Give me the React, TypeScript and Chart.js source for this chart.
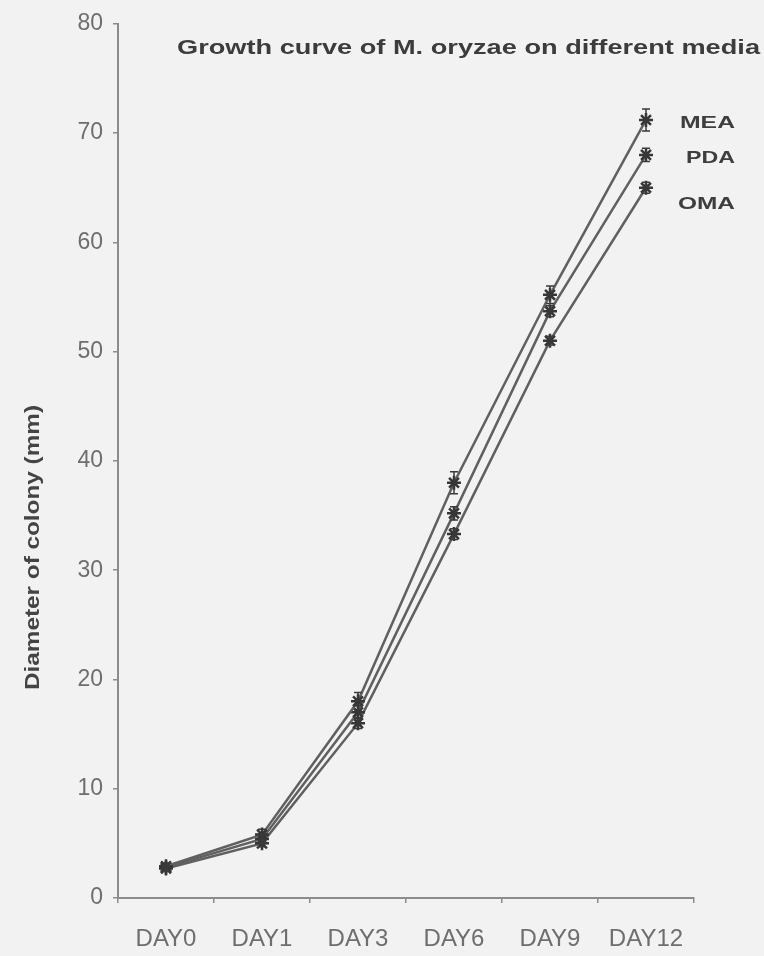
import React, { useEffect, useRef } from "react";
import { Chart, registerables } from "chart.js";

Chart.register(...registerables);

// ---- data ----
const categories = ["DAY0", "DAY1", "DAY3", "DAY6", "DAY9", "DAY12"];
const seriesNames = ["MEA", "PDA", "OMA"];
const meaValues = [2.9, 5.8, 18.0, 38.0, 55.2, 71.2];
const pdaValues = [2.8, 5.4, 17.0, 35.2, 53.7, 68.0];
const omaValues = [2.7, 5.0, 16.0, 33.3, 51.0, 65.0];
const meaErrors = [0.3, 0.5, 0.8, 1.0, 0.8, 1.0];
const pdaErrors = [0.2, 0.4, 0.6, 0.6, 0.5, 0.6];
const omaErrors = [0.2, 0.3, 0.5, 0.5, 0.4, 0.5];
const yMin = 0;
const yMax = 80;
const yStep = 10;
const chartTitle = "Growth curve of M. oryzae on different media";
const yAxisTitle = "Diameter of colony (mm)";

const FONT = "'Liberation Sans', Arial, sans-serif";

function fitText(
  ctx: CanvasRenderingContext2D,
  text: string,
  x: number,
  y: number,
  width: number,
  font: string,
  color: string,
  rotate = 0
) {
  ctx.save();
  ctx.font = font;
  ctx.fillStyle = color;
  ctx.textBaseline = "alphabetic";
  ctx.textAlign = "left";
  const w = ctx.measureText(text).width;
  ctx.translate(x, y);
  if (rotate) ctx.rotate(rotate);
  ctx.scale(width / w, 1);
  ctx.fillText(text, 0, 0);
  ctx.restore();
}

const backgroundPlugin = {
  id: "bg",
  beforeDraw(chart: any) {
    const { ctx, width, height } = chart;
    ctx.save();
    ctx.fillStyle = "#f2f2f2";
    ctx.fillRect(0, 0, width, height);
    ctx.restore();
  },
};

const errorBarPlugin = {
  id: "errorBars",
  afterDatasetsDraw(chart: any) {
    const { ctx } = chart;
    const yScale = chart.scales.y;
    chart.data.datasets.forEach((ds: any, di: number) => {
      const meta = chart.getDatasetMeta(di);
      const errs: number[] = ds.errors || [];
      meta.data.forEach((pt: any, i: number) => {
        const v = ds.data[i];
        const e = errs[i] || 0;
        const yTop = yScale.getPixelForValue(v + e);
        const yBot = yScale.getPixelForValue(v - e);
        ctx.save();
        ctx.strokeStyle = "#3a3a3a";
        ctx.lineWidth = 1.5;
        ctx.beginPath();
        ctx.moveTo(pt.x, yTop);
        ctx.lineTo(pt.x, yBot);
        ctx.moveTo(pt.x - 4, yTop);
        ctx.lineTo(pt.x + 4, yTop);
        ctx.moveTo(pt.x - 4, yBot);
        ctx.lineTo(pt.x + 4, yBot);
        ctx.stroke();
        ctx.restore();
      });
    });
  },
};

const labelsPlugin = {
  id: "textLabels",
  afterDraw(chart: any) {
    const { ctx, chartArea } = chart;
    // title inside plot area
    fitText(
      ctx,
      chartTitle,
      chartArea.left + 59,
      chartArea.top + 30,
      583,
      `bold 21px ${FONT}`,
      "#3c3c3c"
    );
    // y-axis title (rotated)
    fitText(
      ctx,
      yAxisTitle,
      39,
      690,
      285,
      `bold 20px ${FONT}`,
      "#444",
      -Math.PI / 2
    );
    // series labels at line ends
    const offsets = [
      { dx: 34, dy: 8, w: 55 },
      { dx: 40, dy: 8, w: 49 },
      { dx: 32, dy: 21, w: 57 },
    ];
    chart.data.datasets.forEach((ds: any, di: number) => {
      const meta = chart.getDatasetMeta(di);
      const last = meta.data[meta.data.length - 1];
      const o = offsets[di];
      fitText(
        ctx,
        ds.label,
        last.x + o.dx,
        last.y + o.dy,
        o.w,
        `bold 17px ${FONT}`,
        "#3e3e3e"
      );
    });
  },
};

export default function App() {
  const ref = useRef<HTMLCanvasElement>(null);

  useEffect(() => {
    const canvas = ref.current!;
    const values = [meaValues, pdaValues, omaValues];
    const errors = [meaErrors, pdaErrors, omaErrors];
    const chart = new Chart(canvas, {
      type: "line",
      data: {
        labels: categories,
        datasets: seriesNames.map((name, i) => ({
          label: name,
          data: values[i],
          errors: errors[i],
          borderColor: "#606060",
          borderWidth: 2.5,
          pointStyle: "star",
          pointRadius: 7,
          pointBorderColor: "#363636",
          pointBorderWidth: 2.5,
          pointBackgroundColor: "#363636",
          tension: 0,
          fill: false,
        })) as any,
      },
      options: {
        animation: false,
        responsive: false,
        maintainAspectRatio: false,
        layout: { padding: { top: 20, right: 70, left: 0, bottom: 0 } },
        plugins: {
          legend: { display: false },
          tooltip: { enabled: false },
          title: { display: false },
        },
        scales: {
          x: {
            type: "category",
            offset: true,
            grid: {
              display: true,
              offset: true,
              drawOnChartArea: false,
              drawTicks: true,
              tickLength: 5,
              color: "#8c8c8c",
              lineWidth: 1.5,
            },
            border: { display: true, color: "#8c8c8c", width: 2 },
            ticks: {
              color: "#6e6e6e",
              font: { family: FONT, size: 24 },
              padding: 22,
              maxRotation: 0,
              autoSkip: false,
            },
            afterFit(scale: any) {
              scale.height = 58;
            },
          },
          y: {
            min: yMin,
            max: yMax,
            grid: {
              display: true,
              drawOnChartArea: false,
              drawTicks: true,
              tickLength: 5,
              color: "#8c8c8c",
              lineWidth: 1.5,
            },
            border: { display: true, color: "#8c8c8c", width: 2 },
            ticks: {
              stepSize: yStep,
              color: "#6e6e6e",
              font: { family: FONT, size: 23 },
              padding: 10,
            },
            afterFit(scale: any) {
              scale.width = 118;
            },
          },
        },
      },
      plugins: [backgroundPlugin, errorBarPlugin, labelsPlugin],
    });
    return () => chart.destroy();
  }, []);

  return (
    <div
      style={{
        position: "fixed",
        left: 0,
        top: 0,
        width: 764,
        height: 956,
        background: "#f2f2f2",
      }}
    >
      <canvas
        ref={ref}
        width={764}
        height={956}
        style={{ display: "block", width: 764, height: 956 }}
      />
    </div>
  );
}
